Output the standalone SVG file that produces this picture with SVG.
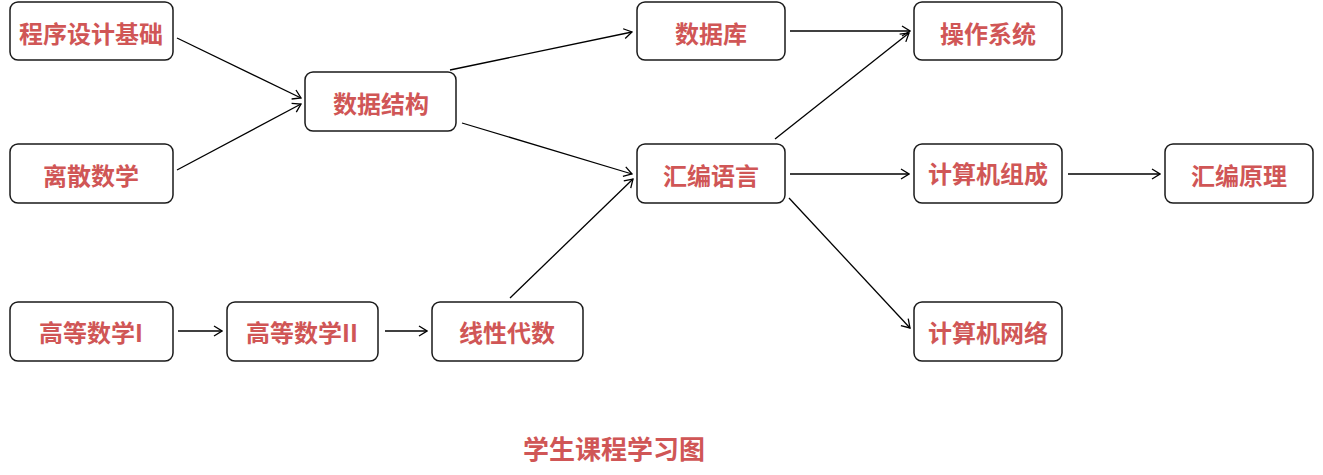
<svg xmlns="http://www.w3.org/2000/svg" width="1323" height="475" viewBox="0 0 1323 475">
<style>
.box{fill:#fff;stroke:#1a1a1a;stroke-width:1.5}
.lbl{font-family:"Noto Sans CJK SC","Liberation Sans",sans-serif;font-weight:bold;font-size:24px;fill:#d05656;text-anchor:middle;dominant-baseline:central}
.title{font-family:"Noto Sans CJK SC","Liberation Sans",sans-serif;font-weight:bold;font-size:26px;fill:#d05656;text-anchor:middle;dominant-baseline:central}
.edge{stroke:#000;stroke-width:1.3;fill:none;marker-end:url(#arr)}
</style>
<defs>
<marker id="arr" viewBox="0 0 10 12" refX="9" refY="6" markerWidth="10" markerHeight="12" markerUnits="userSpaceOnUse" orient="auto">
<path d="M1,1 L9,6 L1,11" fill="none" stroke="#000" stroke-width="1.3"/>
</marker>
</defs>
<rect width="1323" height="475" fill="#fff"/>
<g id="connectors">
<line class="edge" x1="177" y1="38" x2="301" y2="98"/>
<line class="edge" x1="177" y1="170" x2="301" y2="104"/>
<line class="edge" x1="450" y1="70" x2="632" y2="32"/>
<line class="edge" x1="462" y1="123" x2="632" y2="174"/>
<line class="edge" x1="510" y1="298" x2="633" y2="179"/>
<line class="edge" x1="790" y1="31" x2="910" y2="31"/>
<line class="edge" x1="775" y1="139" x2="909" y2="33"/>
<line class="edge" x1="790" y1="174" x2="909" y2="174"/>
<line class="edge" x1="789" y1="198" x2="910" y2="328"/>
<line class="edge" x1="1068" y1="174" x2="1160" y2="174"/>
<line class="edge" x1="178" y1="331" x2="222" y2="331"/>
<line class="edge" x1="385" y1="331" x2="427" y2="331"/>
</g>
<g id="n1"><rect class="box" x="10" y="2" width="163" height="58" rx="8"/><text class="lbl" x="91" y="32">程序设计基础</text></g>
<g id="n2"><rect class="box" x="10" y="144" width="163" height="59" rx="8"/><text class="lbl" x="91" y="174">离散数学</text></g>
<g id="n3"><rect class="box" x="305" y="72" width="151" height="59" rx="8"/><text class="lbl" x="381" y="102">数据结构</text></g>
<g id="n4"><rect class="box" x="637" y="2" width="148" height="58" rx="8"/><text class="lbl" x="711" y="32">数据库</text></g>
<g id="n5"><rect class="box" x="914" y="2" width="148" height="58" rx="8"/><text class="lbl" x="988" y="32">操作系统</text></g>
<g id="n6"><rect class="box" x="637" y="144" width="148" height="59" rx="8"/><text class="lbl" x="711" y="174">汇编语言</text></g>
<g id="n7"><rect class="box" x="914" y="144" width="148" height="59" rx="8"/><text class="lbl" x="988" y="172">计算机组成</text></g>
<g id="n8"><rect class="box" x="1165" y="144" width="148" height="59" rx="8"/><text class="lbl" x="1239" y="174">汇编原理</text></g>
<g id="n9"><rect class="box" x="10" y="302" width="163" height="59" rx="8"/><text class="lbl" x="91" y="331">高等数学I</text></g>
<g id="n10"><rect class="box" x="227" y="302" width="151" height="59" rx="8"/><text class="lbl" x="302" y="331">高等数学II</text></g>
<g id="n11"><rect class="box" x="432" y="302" width="151" height="59" rx="8"/><text class="lbl" x="507" y="331">线性代数</text></g>
<g id="n12"><rect class="box" x="914" y="302" width="148" height="59" rx="8"/><text class="lbl" x="988" y="331">计算机网络</text></g>
<text class="title" x="614" y="447">学生课程学习图</text>
</svg>
